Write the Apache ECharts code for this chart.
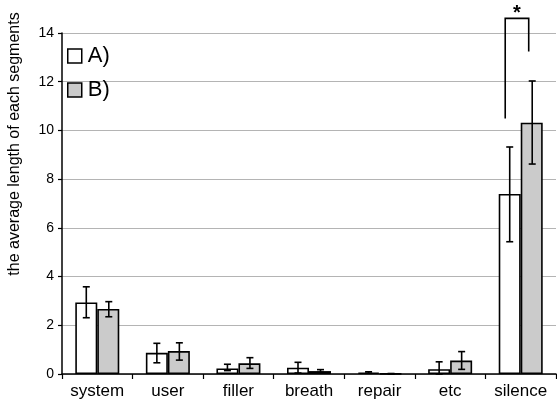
<!DOCTYPE html>
<html>
<head>
<meta charset="utf-8">
<script src="https://cdn.jsdelivr.net/npm/echarts@6/dist/echarts.min.js"></script>
<style>
  html, body { margin: 0; padding: 0; background: #fff; }
  #chart { width: 557px; height: 410px; }
</style>
</head>
<body>
<div id="chart"></div>
<script>
// Average segment length per category, conditions A) and B)
const categories = ['system', 'user', 'filler', 'breath', 'repair', 'etc', 'silence'];
const meanA = [2.94, 0.87, 0.23, 0.26, 0.06, 0.20, 7.39];
const meanB = [2.67, 0.94, 0.44, 0.12, 0.01, 0.55, 10.32];
// error bar extents (low, high)
const lowA  = [2.31, 0.46, 0.14, 0.04, 0.03, 0.00, 5.43];
const highA = [3.58, 1.26, 0.40, 0.48, 0.09, 0.50, 9.32];
const lowB  = [2.35, 0.57, 0.23, 0.06, 0.00, 0.19, 8.62];
const highB = [2.97, 1.28, 0.67, 0.18, 0.02, 0.92, 12.03];
const yTicks = [0, 2, 4, 6, 8, 10, 12, 14];
const yTitle = 'the average length of each segments';
// significance bracket on "silence": left leg end, right leg end, top
const bracket = { category: 6, leftEnd: 10.49, rightEnd: 13.24, top: 14.6, mark: '*' };

const FONT = 'Liberation Sans, Arial, sans-serif';
const BAR_W = 22;

const chart = echarts.init(document.getElementById('chart'), null, { renderer: 'canvas' });

function errorSeries(name, lows, highs, offset) {
  return {
    type: 'custom',
    name: name + '_err',
    z: 10,
    silent: true,
    data: categories.map((c, i) => [i, lows[i], highs[i]]),
    renderItem: function (params, api) {
      const i = api.value(0);
      const lo = api.coord([i, api.value(1)]);
      const hi = api.coord([i, api.value(2)]);
      const x = lo[0] + offset;
      const cap = 3.5;
      const style = { stroke: '#000', lineWidth: 1.6 };
      return {
        type: 'group',
        children: [
          { type: 'line', shape: { x1: x, y1: lo[1], x2: x, y2: hi[1] }, style: style },
          { type: 'line', shape: { x1: x - cap, y1: lo[1], x2: x + cap, y2: lo[1] }, style: style },
          { type: 'line', shape: { x1: x - cap, y1: hi[1], x2: x + cap, y2: hi[1] }, style: style }
        ]
      };
    }
  };
}

const option = {
  animation: false,
  backgroundColor: '#fff',
  textStyle: { fontFamily: FONT },
  grid: { left: 62, right: 1, top: 33, bottom: 36, containLabel: false },
  graphic: [{
    type: 'text',
    x: 15, y: 144,
    rotation: Math.PI / 2,
    style: { text: yTitle, fill: '#000', font: '16px ' + FONT, align: 'center', verticalAlign: 'middle' }
  }],
  legend: {
    orient: 'vertical',
    left: 67,
    top: 45,
    padding: 0,
    itemWidth: 14,
    itemHeight: 14,
    itemGap: 12,
    icon: 'rect',
    selectedMode: false,
    textStyle: { fontSize: 22, lineHeight: 20, color: '#000', fontFamily: FONT, padding: [0, 0, 0, 1] },
    data: [
      { name: 'A)', itemStyle: { color: '#fff', borderColor: '#000', borderWidth: 1.5 } },
      { name: 'B)', itemStyle: { color: '#cbcbcb', borderColor: '#000', borderWidth: 1.5 } }
    ]
  },
  xAxis: {
    type: 'category',
    data: categories,
    boundaryGap: true,
    axisLine: { lineStyle: { color: '#000', width: 1.5 } },
    axisTick: { show: true, inside: false, length: 5, lineStyle: { color: '#000', width: 1.2 } },
    axisLabel: { color: '#000', fontSize: 17, margin: 9, fontFamily: FONT }
  },
  yAxis: {
    type: 'value',
    min: yTicks[0],
    max: yTicks[yTicks.length - 1],
    interval: 2,
    axisLine: { show: true, lineStyle: { color: '#000', width: 1.5 } },
    axisTick: { show: true, length: 4, lineStyle: { color: '#000', width: 1.2 } },
    axisLabel: { color: '#000', fontSize: 14, margin: 8, fontFamily: FONT },
    splitLine: { show: true, lineStyle: { color: '#b4b4b4', width: 1 } }
  },
  series: [
    {
      name: 'A)', type: 'bar', data: meanA, barWidth: BAR_W, barGap: 0,
      itemStyle: { color: '#fff', borderColor: '#000', borderWidth: 1.6 }
    },
    {
      name: 'B)', type: 'bar', data: meanB, barWidth: BAR_W, barGap: 0,
      itemStyle: { color: '#cbcbcb', borderColor: '#000', borderWidth: 1.6 }
    },
    errorSeries('A)', lowA, highA, -11),
    errorSeries('B)', lowB, highB, 11.5),
    {
      type: 'custom',
      name: 'bracket',
      z: 12,
      silent: true,
      clip: false,
      data: [[bracket.category, bracket.leftEnd, bracket.rightEnd, bracket.top]],
      renderItem: function (params, api) {
        const i = api.value(0);
        const l = api.coord([i, api.value(1)]);
        const r = api.coord([i, api.value(2)]);
        const t = api.coord([i, api.value(3)]);
        const xl = l[0] - 15.5;
        const xr = l[0] + 8;
        const style = { stroke: '#000', lineWidth: 1.6, fill: null };
        return {
          type: 'group',
          children: [
            { type: 'polyline', shape: { points: [[xl, l[1]], [xl, t[1]], [xr, t[1]], [xr, r[1]]] }, style: style },
            { type: 'text', style: { x: (xl + xr) / 2, y: t[1] + 5, text: bracket.mark, fill: '#000',
                font: 'bold 20px ' + FONT, align: 'center', verticalAlign: 'bottom' } }
          ]
        };
      }
    }
  ]
};

chart.setOption(option);
</script>
</body>
</html>
